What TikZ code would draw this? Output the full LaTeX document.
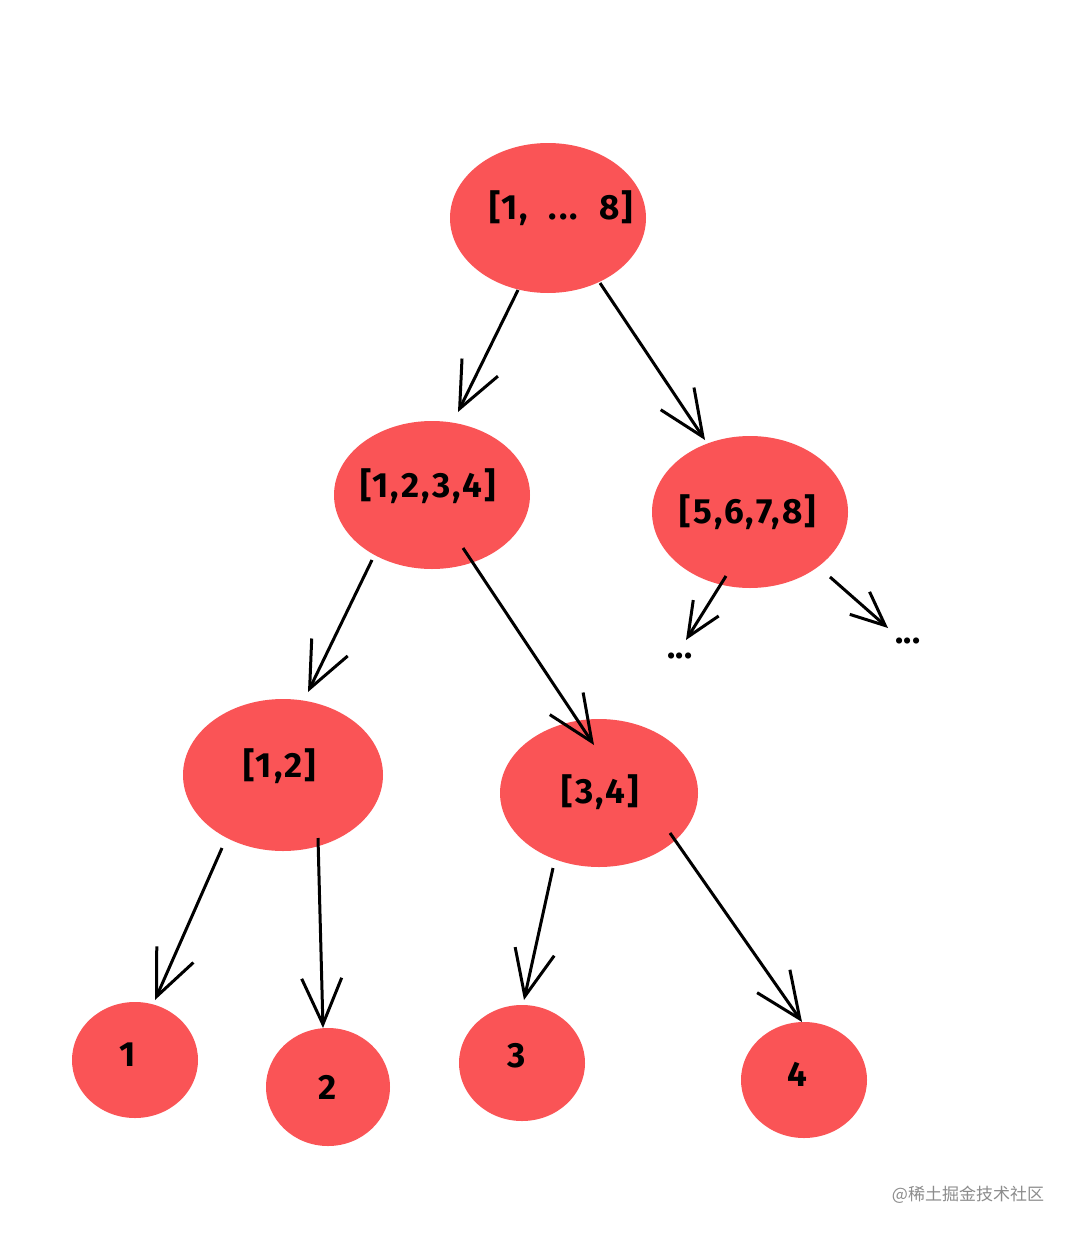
\documentclass[tikz,border=0pt]{standalone}
\usepackage{fontspec}
\setmainfont{Fira Sans}
\newfontfamily\lblfont[LetterSpace=6]{Fira Sans}
\newfontfamily\cjk{Noto Sans CJK SC}
\usetikzlibrary{arrows.meta,shapes.geometric}
\definecolor{nodered}{RGB}{250,84,86}
\tikzset{
  lbl/.style={font=\lblfont\fontsize{35}{37}\selectfont\bfseries, text=black},
  conn/.style={line width=3pt, draw=black, -{Straight Barb[length=46pt,width=40pt,line width=3pt]}},
  smallconn/.style={line width=3pt, draw=black, -{Straight Barb[length=34pt,width=30pt,line width=3pt]}},
  dots/.style={font=\fontsize{34}{36}\selectfont\bfseries}
}
\begin{document}
\begin{tikzpicture}[x=1pt,y=-1pt]
\useasboundingbox (0,0) rectangle (1080,1237);
\fill[white] (0,0) rectangle (1080,1237);
% blobs
\fill[nodered] (548,218) ellipse [x radius=98, y radius=75];
\fill[nodered] (432,495) ellipse [x radius=98, y radius=74];
\fill[nodered] (750,512) ellipse [x radius=98, y radius=76];
\fill[nodered] (283,775) ellipse [x radius=100, y radius=76];
\fill[nodered] (599,793) ellipse [x radius=99, y radius=74];
\fill[nodered] (135,1060) ellipse [x radius=63, y radius=58];
\fill[nodered] (328,1087) ellipse [x radius=62, y radius=59];
\fill[nodered] (522,1063) ellipse [x radius=63, y radius=58];
\fill[nodered] (804,1080) ellipse [x radius=63, y radius=58];
% labels
\node[lbl] (root) at (561,208) {[1,\ \ ...\ \ 8]};
\node[lbl] (a) at (428,486) {[1,2,3,4]};
\node[lbl] (b) at (748,512) {[5,6,7,8]};
\node[lbl] (c) at (280,766) {[1,2]};
\node[lbl] (d) at (600,792) {[3,4]};
\node[lbl] (l1) at (128,1055) {1};
\node[lbl] (l2) at (328,1087) {2};
\node[lbl] (l3) at (517,1056) {3};
\node[lbl] (l4) at (797,1074) {4};
\node[dots] (e1) at (680,656) {...};
\node[dots] (e2) at (908,641) {...};
% connector endpoints
\coordinate (r1) at (518,290); \coordinate (r1e) at (458,412);
\coordinate (r2) at (600,283); \coordinate (r2e) at (705,440);
\coordinate (a1) at (372,560); \coordinate (a1e) at (308,692);
\coordinate (a2) at (463,548); \coordinate (a2e) at (594,745);
\coordinate (b1) at (726,576); \coordinate (b1e) at (686,640);
\coordinate (b2) at (830,577); \coordinate (b2e) at (888,628);
\coordinate (c1) at (222,848); \coordinate (c1e) at (155,1000);
\coordinate (c2) at (318,838); \coordinate (c2e) at (323,1028);
\coordinate (d1) at (553,868); \coordinate (d1e) at (524,1000);
\coordinate (d2) at (670,833); \coordinate (d2e) at (802,1022);
\draw[conn] (r1) -- (r1e);
\draw[conn] (r2) -- (r2e);
\draw[conn] (a1) -- (a1e);
\draw[conn] (a2) -- (a2e);
\draw[smallconn] (b1) -- (b1e);
\draw[smallconn] (b2) -- (b2e);
\draw[conn] (c1) -- (c1e);
\draw[conn] (c2) -- (c2e);
\draw[conn] (d1) -- (d1e);
\draw[conn] (d2) -- (d2e);
\node[font=\cjk\fontsize{17}{18}\selectfont, text=black!45] (wm) at (968,1195) {@稀土掘金技术社区};
\end{tikzpicture}
\end{document}
